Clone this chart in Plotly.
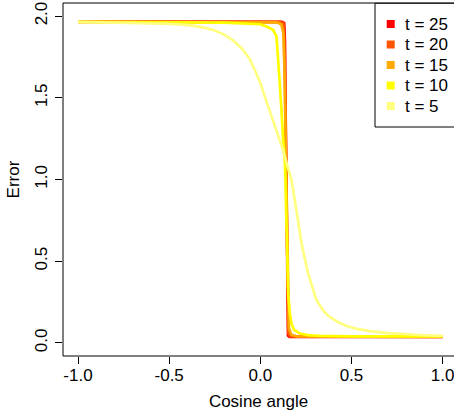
import plotly.graph_objects as go

# ---- data ----
t25_x = [-1.0, 0.0, 0.12, 0.131, 0.135, 0.138, 0.141, 0.144, 0.148, 0.152, 0.16, 1.0]
t25_y = [1.966, 1.966, 1.965, 1.958, 1.85, 1.5, 1.10, 0.6, 0.15, 0.045, 0.037, 0.037]

t20_x = [-1.0, 0.0, 0.11, 0.127, 0.133, 0.137, 0.141, 0.145, 0.149, 0.154, 0.165, 1.0]
t20_y = [1.965, 1.965, 1.964, 1.955, 1.85, 1.5, 1.10, 0.6, 0.2, 0.06, 0.04, 0.037]

t15_x = [-1.0, 0.0, 0.09, 0.115, 0.126, 0.132, 0.137, 0.141, 0.146, 0.151, 0.157, 0.17, 0.2, 1.0]
t15_y = [1.965, 1.965, 1.962, 1.95, 1.90, 1.70, 1.35, 1.10, 0.65, 0.25, 0.09, 0.05, 0.04, 0.038]

t10_x = [-1.0, -0.5, -0.2, 0.0, 0.034, 0.07, 0.08, 0.089, 0.098, 0.108, 0.116, 0.125,
         0.135, 0.144, 0.153, 0.162, 0.171, 0.185, 0.217, 0.26, 0.326, 0.5, 1.0]
t10_y = [1.965, 1.963, 1.96, 1.95, 1.936, 1.916, 1.896, 1.875, 1.73, 1.58, 1.43, 1.25,
         1.10, 0.71, 0.30, 0.18, 0.119, 0.08, 0.058, 0.048, 0.043, 0.04, 0.04]

t5_x = [-1.0, -0.8, -0.66, -0.5, -0.39, -0.3, -0.25, -0.2, -0.15, -0.1, -0.06, -0.03, 0.0,
        0.03, 0.07, 0.1, 0.125, 0.144, 0.171, 0.198, 0.226, 0.262, 0.308, 0.35, 0.381,
        0.43, 0.473, 0.53, 0.601, 0.7, 0.783, 0.9, 1.0]
t5_y = [1.965, 1.962, 1.957, 1.952, 1.945, 1.928, 1.912, 1.888, 1.852, 1.80, 1.74, 1.67, 1.59,
        1.49, 1.365, 1.265, 1.18, 1.10, 0.997, 0.813, 0.609, 0.425, 0.262, 0.19, 0.159,
        0.125, 0.104, 0.086, 0.072, 0.06, 0.053, 0.047, 0.043]

series_labels = ["t = 25", "t = 20", "t = 15", "t = 10", "t = 5"]
series_colors = ["#FF0000", "#FF5500", "#FFAA00", "#FFFF00", "#FFFF80"]
series_x = [t25_x, t20_x, t15_x, t10_x, t5_x]
series_y = [t25_y, t20_y, t15_y, t10_y, t5_y]

x_tickvals = [-1.0, -0.5, 0.0, 0.5, 1.0]
x_ticktext = ["-1.0", "-0.5", "0.0", "0.5", "1.0"]
y_tickvals = [0.0, 0.5, 1.0, 1.5, 2.0]
y_ticktext = ["0.0", "0.5", "1.0", "1.5", "2.0"]

# ---- layout geometry (pixels) ----
W, H = 454, 413
ML, MR, MT, MB = 63, 0, 3, 57
PW = W - ML - MR
PH = H - MT - MB

def px(xp):
    return (xp - ML) / PW

def py(yp):
    return (H - MB - yp) / PH

FONT = "Liberation Sans, Arial, Helvetica, sans-serif"
FS = 17

fig = go.Figure()
for xs, ys, col, lab in zip(series_x, series_y, series_colors, series_labels):
    fig.add_trace(go.Scatter(x=xs, y=ys, mode="lines", name=lab,
                             line=dict(color=col, width=2.7), showlegend=False))

shapes = [dict(type="rect", xref="paper", yref="paper", x0=0, x1=px(457), y0=0, y1=1,
               line=dict(color="black", width=1), fillcolor="rgba(0,0,0,0)", layer="above")]
# legend box
shapes.append(dict(type="rect", xref="paper", yref="paper", x0=px(375), x1=px(460),
                   y0=py(127), y1=py(3.3), line=dict(color="black", width=1),
                   fillcolor="white", layer="above"))
annotations = []
row_y = [24, 44.5, 65, 85.5, 106]
for lab, col, ry in zip(series_labels, series_colors, row_y):
    shapes.append(dict(type="rect", xref="paper", yref="paper",
                       x0=px(386.7), x1=px(394.7), y0=py(ry + 4), y1=py(ry - 4),
                       line=dict(width=0), fillcolor=col, layer="above"))
    annotations.append(dict(xref="paper", yref="paper", x=px(403), y=py(ry), text=lab,
                            showarrow=False, xanchor="left", yanchor="middle",
                            font=dict(family=FONT, size=FS, color="black")))

fig.update_layout(
    width=W, height=H,
    margin=dict(l=ML, r=MR, t=MT, b=MB, pad=0, autoexpand=False),
    paper_bgcolor="white", plot_bgcolor="white",
    font=dict(family=FONT, size=FS, color="black"),
    shapes=shapes, annotations=annotations,
    showlegend=False,
)
fig.update_xaxes(range=[-1.0823, 1.0625], tickvals=x_tickvals, ticktext=x_ticktext,
                 showgrid=False, zeroline=False, showline=False, automargin=False,
                 ticks="outside", ticklen=7, tickwidth=1, tickcolor="black",
                 tickfont=dict(family=FONT, size=FS), ticklabelstandoff=-3,
                 ticklabeloverflow="allow",
                 title=dict(text="Cosine angle", font=dict(family=FONT, size=FS), standoff=10))
fig.update_yaxes(range=[-0.08, 2.08], tickvals=y_tickvals, ticktext=y_ticktext,
                 showgrid=False, zeroline=False, showline=False, automargin=False,
                 ticks="outside", ticklen=7, tickwidth=1, tickcolor="black",
                 tickangle=-90, tickfont=dict(family=FONT, size=FS), ticklabelstandoff=1,
                 ticklabeloverflow="allow",
                 title=dict(text="Error", font=dict(family=FONT, size=FS), standoff=8))

fig.write_html("out.html", config={"displayModeBar": False},
               post_script="document.body.style.margin='0';document.body.style.overflow='hidden';")
